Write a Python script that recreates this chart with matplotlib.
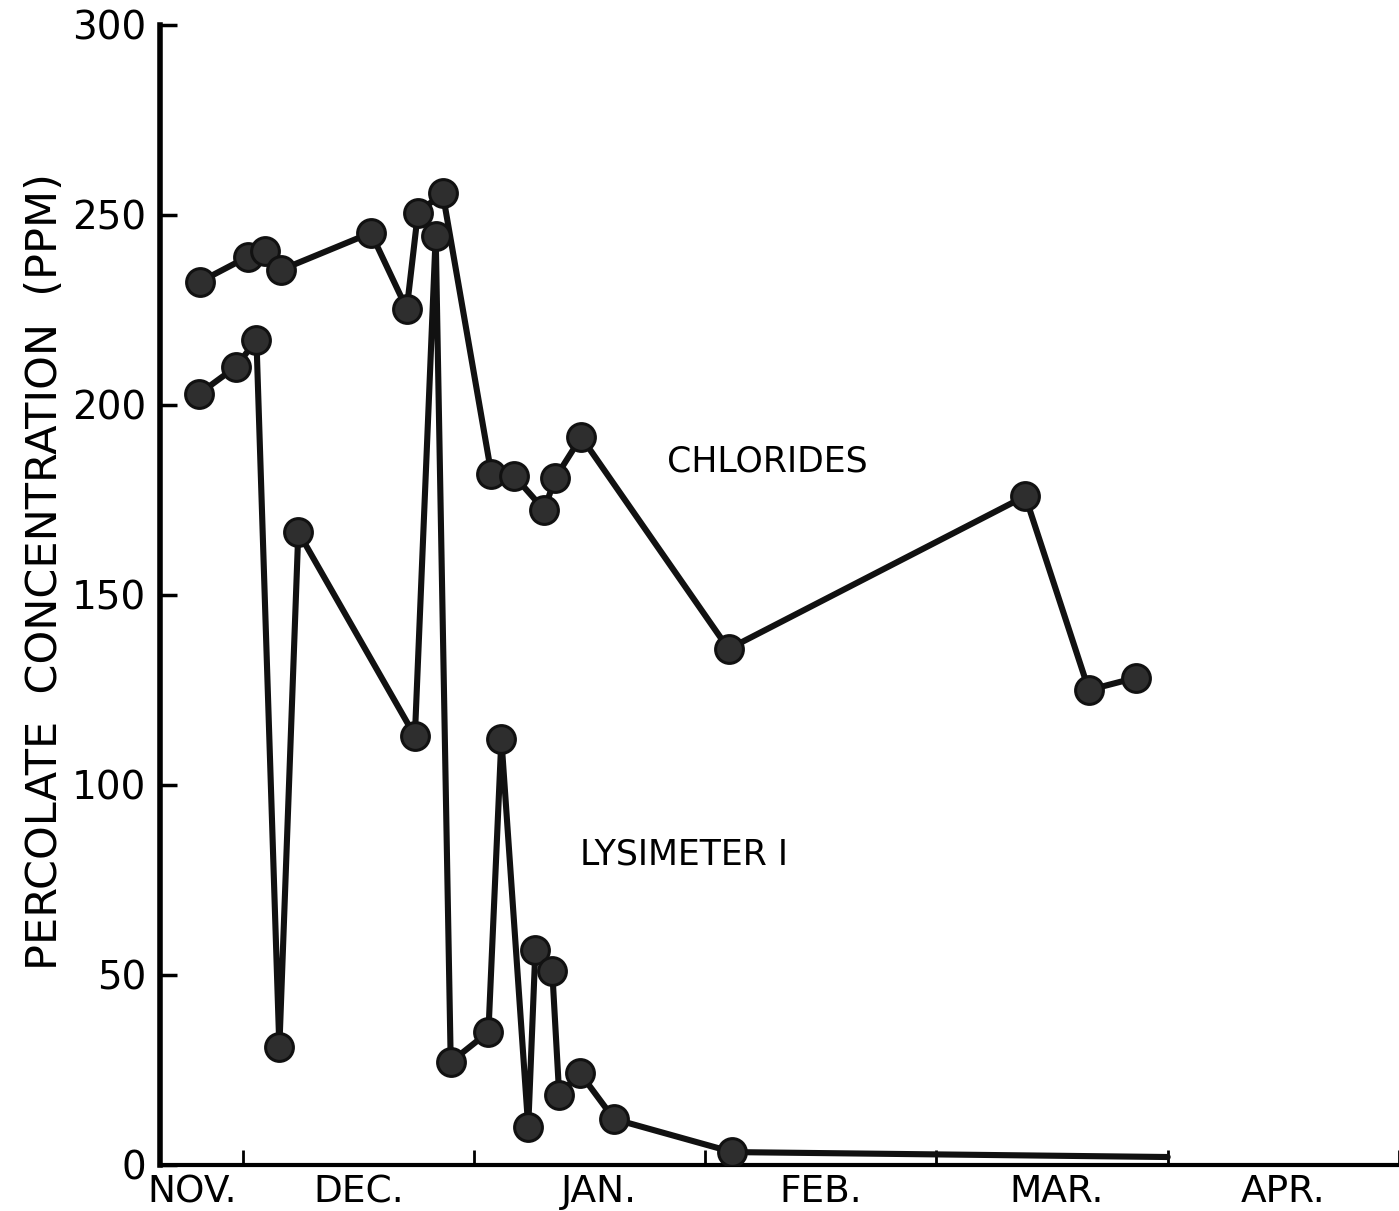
import matplotlib
matplotlib.use("Agg")
import matplotlib.pyplot as plt
import matplotlib.transforms as mtransforms

# time axis in months: 1 = Dec 1, 2 = Jan 1, 3 = Feb 1, 4 = Mar 1, 5 = Apr 1
chl_t = [0.815, 1.022, 1.095, 1.164, 1.555, 1.710, 1.758, 1.865, 2.076, 2.175,
         2.304, 2.352, 2.464, 3.101, 4.384, 4.659, 4.861]
chl_v = [232.4, 239.0, 240.5, 235.5, 245.3, 225.3, 250.5, 255.8, 181.8, 181.3,
         172.4, 180.8, 191.6, 135.8, 176.0, 125.0, 128.2]

lys_t = [0.811, 0.970, 1.060, 1.159, 1.241, 1.745, 1.835, 1.900, 2.063, 2.119,
         2.235, 2.266, 2.339, 2.369, 2.459, 2.606, 3.118]
lys_v = [202.9, 210.0, 217.1, 31.0, 166.6, 112.9, 244.5, 27.1, 35.0, 112.1,
         10.0, 56.6, 51.0, 18.4, 24.2, 12.1, 3.4]
# unmarked continuation of the lower trace to the April tick
lys_end_t = [3.118, 5.0]
lys_end_v = [3.4, 2.1]

month_labels = ["NOV.", "DEC.", "JAN.", "FEB.", "MAR.", "APR."]
month_label_pos = [0.78, 1.5, 2.54, 3.5, 4.52, 5.5]
month_ticks = [1, 2, 3, 4, 5, 6]
y_ticks = [0, 50, 100, 150, 200, 250, 300]

plt.rcParams['font.family'] = ['DejaVu Sans']

fig = plt.figure(figsize=(13.99, 12.11), dpi=100)
ax = fig.add_axes([160/1399, 46/1211, 1 - 160/1399, 1140/1211])
ax.set_xlim(0.643, 6.0)
ax.set_ylim(0, 300)

line_kw = dict(color='#111111', lw=4.4, solid_joinstyle='round',
               solid_capstyle='round', zorder=2)
mark_kw = dict(marker='o', markersize=20, markerfacecolor='#2e2e2e',
               markeredgecolor='#111111', markeredgewidth=2.2, linestyle='none', zorder=3)

ax.plot(chl_t, chl_v, **line_kw)
ax.plot(chl_t, chl_v, **mark_kw)
ax.plot(lys_t, lys_v, **line_kw)
ax.plot(lys_end_t, lys_end_v, **line_kw)
ax.plot(lys_t, lys_v, **mark_kw)

for s in ['top', 'right']:
    ax.spines[s].set_visible(False)
ax.spines['left'].set_linewidth(4)
ax.spines['bottom'].set_linewidth(3)

ax.set_yticks(y_ticks)
ax.set_yticklabels([str(v) for v in y_ticks], fontsize=28)
ax.tick_params(axis='y', direction='in', length=12, width=2.5, pad=10)
ax.set_xticks(month_ticks)
ax.set_xticklabels([])
ax.tick_params(axis='x', direction='in', length=11, width=2)

trans = mtransforms.blended_transform_factory(ax.transData, ax.transAxes)
for lab, pos in zip(month_labels, month_label_pos):
    ax.text(pos, -0.024, lab, transform=trans, ha='center', va='center',
            fontsize=27, clip_on=False)

ax.text(3.27, 185, "CHLORIDES", ha='center', va='center', fontsize=25)
ax.text(2.91, 81.6, "LYSIMETER I", ha='center', va='center', fontsize=25)

fig.text(45/1399, 1 - 572/1211, "PERCOLATE  CONCENTRATION  (PPM)",
         rotation=90, ha='center', va='center', fontsize=31)

fig.savefig("out.png", dpi=100)
